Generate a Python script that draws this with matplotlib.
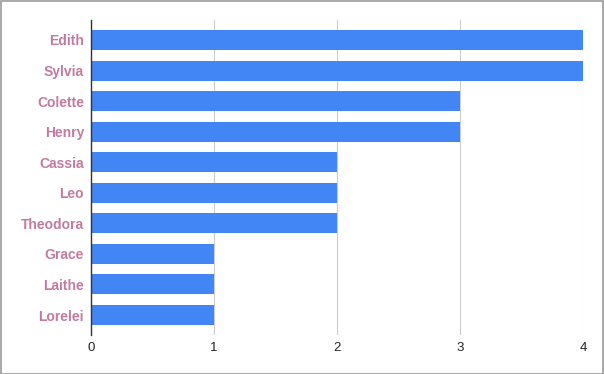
import matplotlib
matplotlib.use("Agg")
import matplotlib.pyplot as plt
from matplotlib.patches import Rectangle

# ─── Data ─────────────────────────────────────────────────────────────
names = ["Edith", "Sylvia", "Colette", "Henry", "Cassia", "Leo",
         "Theodora", "Grace", "Laithe", "Lorelei"]
counts = [4, 4, 3, 3, 2, 2, 2, 1, 1, 1]
x_ticks = [0, 1, 2, 3, 4]

BAR_COLOR = "#4285f4"
LABEL_COLOR = "#c27ba0"

plt.rcParams["font.family"] = ["Liberation Sans", "DejaVu Sans"]

fig = plt.figure(figsize=(6.04, 3.74), dpi=100)
W, H = 604, 374
ax = fig.add_axes([91 / W, 1 - 335 / H, (583 - 91) / W, (335 - 20) / H])

y_pos = list(range(len(names)))
ax.barh(y_pos, counts, height=0.654, color=BAR_COLOR, zorder=3)

ax.set_ylim(len(names) - 1 + 0.654, -0.654)
ax.set_xlim(0, 4)
ax.set_xticks(x_ticks)
ax.set_xticklabels([str(t) for t in x_ticks], fontsize=9.5, color="#222222")
ax.set_yticks(y_pos)
ax.set_yticklabels(names, fontsize=10, fontweight="bold", color=LABEL_COLOR)
ax.tick_params(axis="both", length=0)
ax.tick_params(axis="x", pad=5)
ax.tick_params(axis="y", pad=5)

ax.grid(axis="x", color="#cccccc", linewidth=0.8, zorder=0)
for s in ["top", "right", "bottom"]:
    ax.spines[s].set_visible(False)
ax.spines["left"].set_color("#333333")
ax.spines["left"].set_linewidth(1.0)
ax.spines["left"].set_zorder(4)

# thin grey frame around the whole picture
fig.patches.append(Rectangle((0.5 / W, 0.5 / H), 1 - 1.5 / W, 1 - 1.5 / H,
                             transform=fig.transFigure, fill=False,
                             edgecolor="#999999", linewidth=1.2))

fig.savefig("out.png", dpi=100)
